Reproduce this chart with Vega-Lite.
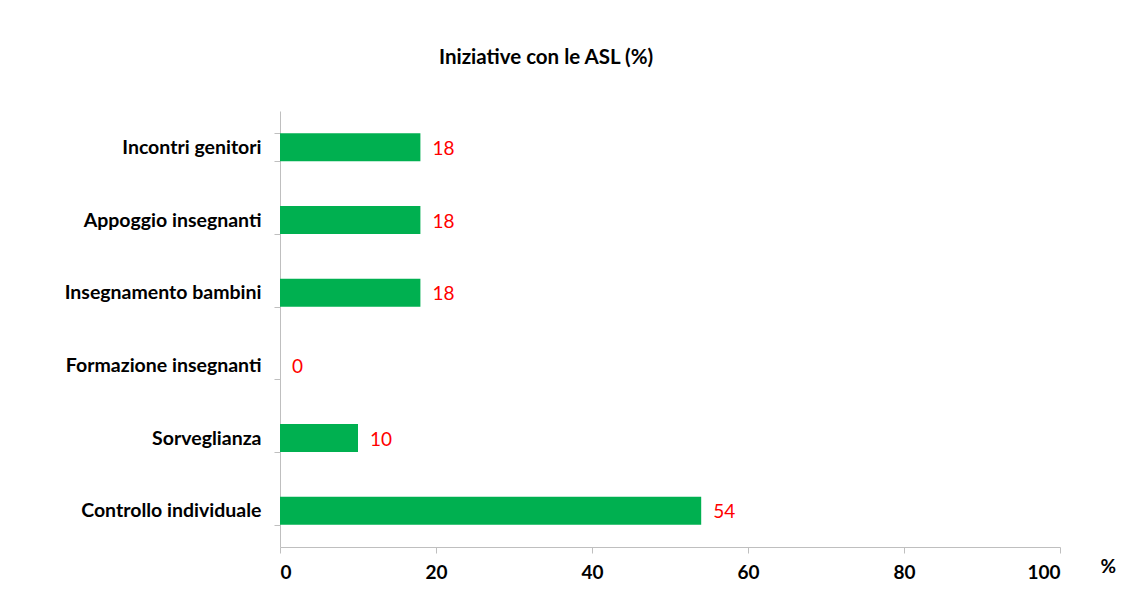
{
  "$schema": "https://vega.github.io/schema/vega-lite/v6.json",
  "autosize": "none",
  "width": 780,
  "height": 436,
  "padding": {"left": 280, "top": 111, "right": 85, "bottom": 48},
  "background": "white",
  "config": {"view": {"stroke": null}, "font": "Lato"},
  "title": {
    "text": "Iniziative con le ASL (%)",
    "font": "Lato",
    "fontSize": 20.5,
    "fontWeight": "bold",
    "color": "#000000",
    "anchor": "middle",
    "dx": -124,
    "offset": 33
  },
  "data": {
    "values": [
      {"categoria": "Incontri genitori", "valore": 18},
      {"categoria": "Appoggio insegnanti", "valore": 18},
      {"categoria": "Insegnamento bambini", "valore": 18},
      {"categoria": "Formazione insegnanti", "valore": 0},
      {"categoria": "Sorveglianza", "valore": 10},
      {"categoria": "Controllo individuale", "valore": 54}
    ]
  },
  "encoding": {
    "y": {
      "field": "categoria",
      "type": "nominal",
      "sort": null,
      "scale": {"paddingInner": 0.615, "paddingOuter": 0.3075},
      "axis": {
        "title": null,
        "tickBand": "extent",
        "domainColor": "#BFBFBF",
        "tickColor": "#BFBFBF",
        "tickSize": 6,
        "labelFont": "Lato",
        "labelFontSize": 19.5,
        "labelFontWeight": "bold",
        "labelColor": "#000000",
        "labelPadding": 13,
        "labelLimit": 400
      }
    },
    "x": {
      "field": "valore",
      "type": "quantitative",
      "scale": {"domain": [0, 100], "nice": false},
      "axis": {
        "values": [0, 20, 40, 60, 80, 100],
        "grid": false,
        "domainColor": "#BFBFBF",
        "tickColor": "#BFBFBF",
        "tickSize": 6,
        "labelFont": "Lato",
        "labelFontSize": 19,
        "labelFontWeight": "bold",
        "labelColor": "#000000",
        "labelPadding": 10,
        "title": "%",
        "titleFont": "Lato",
        "titleFontSize": 19,
        "titleFontWeight": "bold",
        "titleColor": "#000000",
        "titleAnchor": "start",
        "titleX": 820,
        "titleY": 10,
        "titleBaseline": "top"
      }
    }
  },
  "layer": [
    {"mark": {"type": "bar", "color": "#00B050"}},
    {
      "mark": {"type": "text", "align": "left", "baseline": "middle", "dx": 12, "dy": 1.5, "color": "#FF0000", "font": "Lato", "fontSize": 19},
      "encoding": {"text": {"field": "valore", "type": "quantitative"}}
    }
  ]
}
